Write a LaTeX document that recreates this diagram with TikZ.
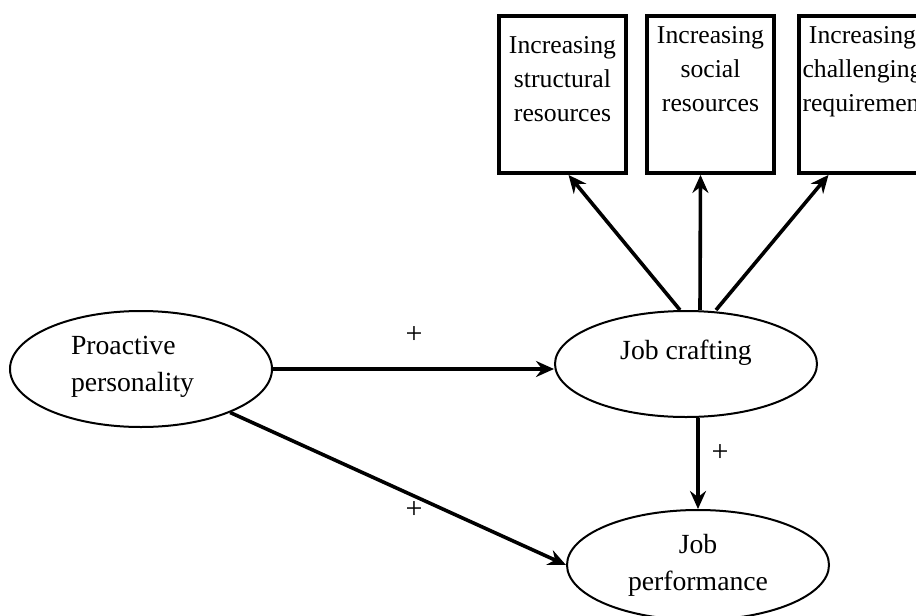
\documentclass[tikz,border=0pt]{standalone}
\usepackage{fontspec}
\setmainfont{Liberation Serif}
\usetikzlibrary{arrows.meta,shapes.geometric}

\begin{document}
\begin{tikzpicture}[
        x=1pt, y=-1pt,
        factor/.style={ellipse, draw, line width=2pt, minimum width=262pt, font=\fontsize{27.7}{37}\selectfont},
        strategy/.style={rectangle, draw, line width=3.8pt, minimum width=127pt, minimum height=157pt, text width=120pt, align=center, font=\fontsize{25.7}{34}\selectfont},
        link/.style={-{Stealth[length=18pt,width=16pt,inset=6pt]}, line width=3.6pt},
        sign/.style={inner sep=0pt, font=\fontsize{30}{30}\selectfont}
    ]
    \useasboundingbox (0,0) rectangle (916,616);
    % the three crafting dimensions
    \node[strategy, text depth=100pt] (sr) at (562.5,94.5) {Increasing\\structural\\resources};
    \node[strategy, text depth=120pt] (so) at (710.5,94.5) {Increasing\\social\\resources};
    \node[strategy, text depth=120pt] (ch) at (862.5,94.5) {Increasing\\challenging\\requirements};
    % model
    \node[factor, minimum height=116pt, text width=140pt, align=left, text depth=48pt] (pp) at (141,369) {Proactive\\personality};
    \node[factor, minimum height=106pt, text depth=28pt] (jc) at (686,364) {Job crafting};
    \node[factor, minimum height=110pt, align=center] (jp) at (698,565) {Job\\performance};

    \draw[link] (pp.east) -- (pp.east -| jc.west);
    \draw[link] (pp.-26) -- (jp.west);
    \draw[link] (jp.north |- jc.south) -- (jp.north);
    \draw[link] ([xshift=-6pt]jc.north) -- ([xshift=6pt]sr.south);
    \draw[link] ([xshift=14pt]jc.north) -- ([xshift=-10pt]so.south);
    \draw[link] ([xshift=30pt]jc.north) -- ([xshift=-34pt]ch.south);

    \node[sign] (plus1) at (414,335) {+};
    \node[sign] (plus2) at (414,510) {+};
    \node[sign] (plus3) at (720,453) {+};
    \end{tikzpicture}
\end{document}
